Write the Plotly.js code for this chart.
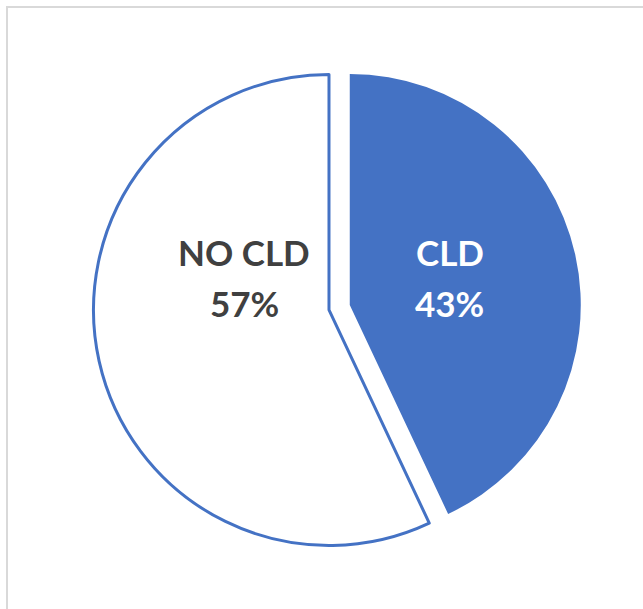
<!DOCTYPE html>
<html>
<head>
<meta charset="utf-8">
<script src="https://cdn.plot.ly/plotly-3.0.1.min.js"></script>
<style>
  html, body { margin: 0; padding: 0; width: 643px; height: 609px; overflow: hidden; background: #fff; }
  #frame { position: absolute; left: 6px; top: 6px; width: 700px; height: 700px; border: 2px solid #d9d9d9; box-sizing: border-box; }
  #chart { position: absolute; left: 0; top: 0; width: 643px; height: 609px; }
</style>
</head>
<body>
<div id="frame"></div>
<div id="chart"></div>
<script>
const labels = ["CLD", "NO CLD"];
const values = [43, 57];
const fillColors = ["#4472C4", "#FFFFFF"];
const textColors = ["#FFFFFF", "#404040"];
const pulls = [0.09, 0];

const total = values.reduce((a, b) => a + b, 0);
const pct = values.map(v => Math.round(v / total * 100) + "%");

// label anchor positions (paper coords) for each slice's text
const labelX = [0.6998, 0.3795];
const labelY1 = [0.586, 0.586];
const labelY2 = [0.5025, 0.5025];

const outline = "#4472C4";

// Unexploded slice(s): white fill with blue outline
const traceBase = {
  type: "pie",
  labels: labels,
  values: values,
  sort: false,
  direction: "clockwise",
  rotation: 0,
  pull: pulls,
  textinfo: "none",
  hoverinfo: "label+percent",
  marker: {
    colors: fillColors.map((c, i) => pulls[i] > 0 ? "rgba(0,0,0,0)" : c),
    line: { color: outline, width: pulls.map(p => p > 0 ? 0 : 3) }
  },
  domain: { x: [0.1124, 0.9109], y: [0.0695, 0.9125] },
  showlegend: false
};

// Exploded slice(s): solid fill, drawn slightly smaller
const traceExploded = {
  type: "pie",
  labels: labels,
  values: values,
  sort: false,
  direction: "clockwise",
  rotation: 0,
  pull: pulls,
  textinfo: "none",
  hoverinfo: "label+percent",
  marker: {
    colors: fillColors.map((c, i) => pulls[i] > 0 ? c : "rgba(0,0,0,0)"),
    line: { color: outline, width: 0 }
  },
  domain: { x: [0.1208, 0.9040], y: [0.0783, 0.9053] },
  showlegend: false
};

const annotations = [];
labels.forEach((lab, i) => {
  annotations.push({
    xref: "paper", yref: "paper", x: labelX[i], y: labelY1[i],
    xanchor: "center", yanchor: "middle", showarrow: false,
    text: "<b>" + lab + "</b>",
    font: { family: "Lato, 'Open Sans', sans-serif", size: 35, color: textColors[i] }
  });
  annotations.push({
    xref: "paper", yref: "paper", x: labelX[i], y: labelY2[i],
    xanchor: "center", yanchor: "middle", showarrow: false,
    text: "<b>" + pct[i] + "</b>",
    font: { family: "Lato, 'Open Sans', sans-serif", size: 35, color: textColors[i] }
  });
});

const layout = {
  width: 643, height: 609,
  margin: { l: 0, r: 0, t: 0, b: 0 },
  paper_bgcolor: "rgba(0,0,0,0)",
  plot_bgcolor: "rgba(0,0,0,0)",
  annotations: annotations
};

Plotly.newPlot("chart", [traceBase, traceExploded], layout, { displayModeBar: false, staticPlot: true });
</script>
</body>
</html>
